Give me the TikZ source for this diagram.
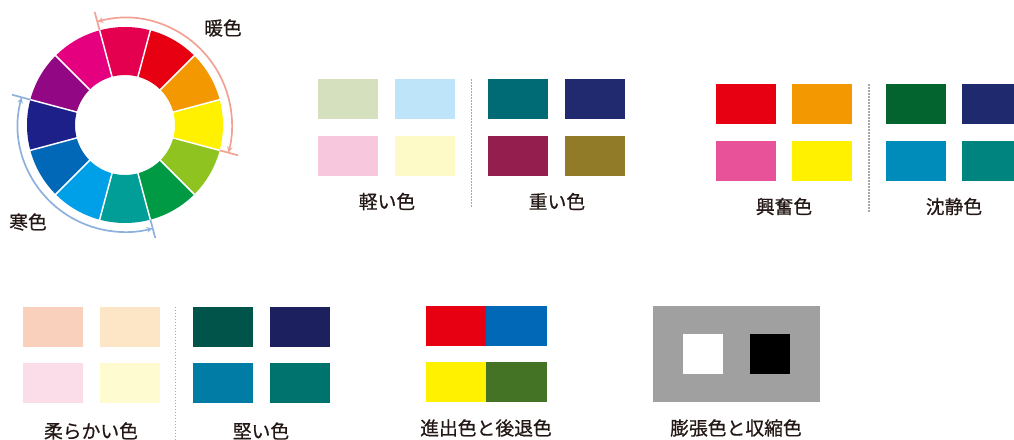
\documentclass[tikz,border=0pt]{standalone}
\usepackage{fontspec}
\setmainfont{Noto Sans CJK JP}
\newfontfamily\lblfont{Noto Sans CJK JP}[FakeBold=0.6]
\usetikzlibrary{arrows.meta}
\definecolor{w0}{HTML}{E5004F}
\definecolor{w1}{HTML}{E60012}
\definecolor{w2}{HTML}{F39800}
\definecolor{w3}{HTML}{FFF100}
\definecolor{w4}{HTML}{8FC31F}
\definecolor{w5}{HTML}{009944}
\definecolor{w6}{HTML}{009E96}
\definecolor{w7}{HTML}{00A0E9}
\definecolor{w8}{HTML}{0068B7}
\definecolor{w9}{HTML}{1D2088}
\definecolor{w10}{HTML}{920783}
\definecolor{w11}{HTML}{E4007F}
\definecolor{warmc}{HTML}{F2A193}
\definecolor{coolc}{HTML}{8DB0DE}
\definecolor{lg}{HTML}{D5E0BF}
\definecolor{lb}{HTML}{BDE4F8}
\definecolor{lp}{HTML}{F7C8DD}
\definecolor{ly}{HTML}{FEFAC8}
\definecolor{ht}{HTML}{006B74}
\definecolor{hn}{HTML}{212A6F}
\definecolor{hm}{HTML}{941F4E}
\definecolor{ho}{HTML}{917B28}
\definecolor{er}{HTML}{E60012}
\definecolor{eo}{HTML}{F39800}
\definecolor{ep}{HTML}{E85298}
\definecolor{ey}{HTML}{FFF100}
\definecolor{cg}{HTML}{036430}
\definecolor{cn}{HTML}{1F2A6E}
\definecolor{cb}{HTML}{008CBB}
\definecolor{ct}{HTML}{00847F}
\definecolor{sp}{HTML}{F9D0BB}
\definecolor{sb}{HTML}{FDE6C5}
\definecolor{sk}{HTML}{FADDE8}
\definecolor{sy}{HTML}{FEFBD1}
\definecolor{kg}{HTML}{00544A}
\definecolor{kn}{HTML}{1C205F}
\definecolor{kb}{HTML}{007CA5}
\definecolor{kt}{HTML}{00736E}
\definecolor{ar}{HTML}{E60012}
\definecolor{ab}{HTML}{0068B7}
\definecolor{ay}{HTML}{FFF100}
\definecolor{ag}{HTML}{457326}
\definecolor{grayc}{HTML}{A0A0A0}
\definecolor{divc}{HTML}{A8A8A8}
\definecolor{txt}{HTML}{231815}
\begin{document}
\begin{tikzpicture}[x=1pt,y=-1pt,
  swatch/.style={draw=none,inner sep=0pt,minimum width=60pt,minimum height=40pt},
  lbl/.style={inner sep=0pt,text=txt,font=\lblfont\fontsize{18.8pt}{21pt}\selectfont},
  divider/.style={divc,line width=1.2pt,dash pattern=on 1.5pt off 1.5pt},
  arcline/.style={line width=1.7pt},
  tip/.style={{Stealth[length=6pt,width=5.5pt]}-{Stealth[length=6pt,width=5.5pt]}}]
\useasboundingbox (0,0) rectangle (1014,439);
% colour wheel
\begin{scope}[shift={(125pt,-125pt)},x=1pt,y=1pt]
  \foreach \c [count=\i from 0] in {w0,w1,w2,w3,w4,w5,w6,w7,w8,w9,w10,w11} {
    \pgfmathsetmacro\a{90-30*\i}
    \fill[\c] (\a-15:50) arc[start angle=\a-15,end angle=\a+15,radius=50]
      -- (\a+15:98) arc[start angle=\a+15,end angle=\a-15,radius=98] -- cycle;
  }
  \foreach \k in {0,...,11} \draw[white,line width=1.5pt] (15+30*\k:49) -- (15+30*\k:99);
  \draw[warmc,arcline,tip] (105:107) arc[start angle=105,end angle=-15,radius=107];
  \draw[warmc,arcline] (105:98) -- (105:117);
  \draw[warmc,arcline] (-15:98) -- (-15:117);
  \draw[coolc,arcline,tip] (165:107) arc[start angle=165,end angle=285,radius=107];
  \draw[coolc,arcline] (165:98) -- (165:117);
  \draw[coolc,arcline] (285:98) -- (285:117);
\end{scope}
\node[lbl] (warm) at (223,28) {暖色};
\node[lbl] (cool) at (28,222) {寒色};
% light / heavy
\node[swatch,fill=lg] (l1) at (348.3,99.2) {};
\node[swatch,fill=lb] (l2) at (425,99.2) {};
\node[swatch,fill=lp] (l3) at (348.3,155.7) {};
\node[swatch,fill=ly] (l4) at (425,155.7) {};
\node[swatch,fill=ht] (h1) at (518,99.2) {};
\node[swatch,fill=hn] (h2) at (595,99.2) {};
\node[swatch,fill=hm] (h3) at (518,155.7) {};
\node[swatch,fill=ho] (h4) at (595,155.7) {};
\coordinate (d1a) at (471.7,79);
\coordinate (d1b) at (471.7,208);
\draw[divider] (d1a) -- (d1b);
\node[lbl] (light) at (387,201.5) {軽い色};
\node[lbl] (heavy) at (557,201.5) {重い色};
% exciting / calm
\node[swatch,fill=er] (e1) at (745.7,104) {};
\node[swatch,fill=eo] (e2) at (822.3,104) {};
\node[swatch,fill=ep] (e3) at (745.7,160.7) {};
\node[swatch,fill=ey] (e4) at (822.3,160.7) {};
\node[swatch,fill=cg] (c1) at (915.7,104) {};
\node[swatch,fill=cn] (c2) at (992.3,104) {};
\node[swatch,fill=cb] (c3) at (915.7,160.7) {};
\node[swatch,fill=ct] (c4) at (992.3,160.7) {};
\coordinate (d2a) at (869,84);
\coordinate (d2b) at (869,213);
\draw[divider] (d2a) -- (d2b);
\node[lbl] (excite) at (784,206.5) {興奮色};
\node[lbl] (calm) at (954,206.5) {沈静色};
% soft / hard
\node[swatch,fill=sp] (s1) at (53,327) {};
\node[swatch,fill=sb] (s2) at (129.7,327) {};
\node[swatch,fill=sk] (s3) at (53,383.3) {};
\node[swatch,fill=sy] (s4) at (129.7,383.3) {};
\node[swatch,fill=kg] (k1) at (223,327) {};
\node[swatch,fill=kn] (k2) at (299.7,327) {};
\node[swatch,fill=kb] (k3) at (223,383.3) {};
\node[swatch,fill=kt] (k4) at (299.7,383.3) {};
\coordinate (d3a) at (175.7,306.7);
\coordinate (d3b) at (175.7,439);
\draw[divider] (d3a) -- (d3b);
\node[lbl] (soft) at (91,431) {柔らかい色};
\node[lbl] (hard) at (261,431) {堅い色};
% advancing / receding
\node[swatch,fill=ar,minimum width=60.7pt] (a1) at (456.3,326) {};
\node[swatch,fill=ab,minimum width=60.7pt] (a2) at (516.7,326) {};
\node[swatch,fill=ay,minimum width=60.7pt] (a3) at (456.3,382.3) {};
\node[swatch,fill=ag,minimum width=60.7pt] (a4) at (516.7,382.3) {};
\node[lbl] (adv) at (486,428) {進出色と後退色};
% expansion / contraction
\node[swatch,fill=grayc,minimum width=166.7pt,minimum height=96.3pt] (g) at (736.7,354.2) {};
\node[swatch,fill=white,minimum width=40pt] (ws) at (703.3,354.3) {};
\node[swatch,fill=black,minimum width=40pt] (bs) at (770,354.3) {};
\node[lbl] (exp) at (736,428) {膨張色と収縮色};
\end{tikzpicture}
\end{document}
